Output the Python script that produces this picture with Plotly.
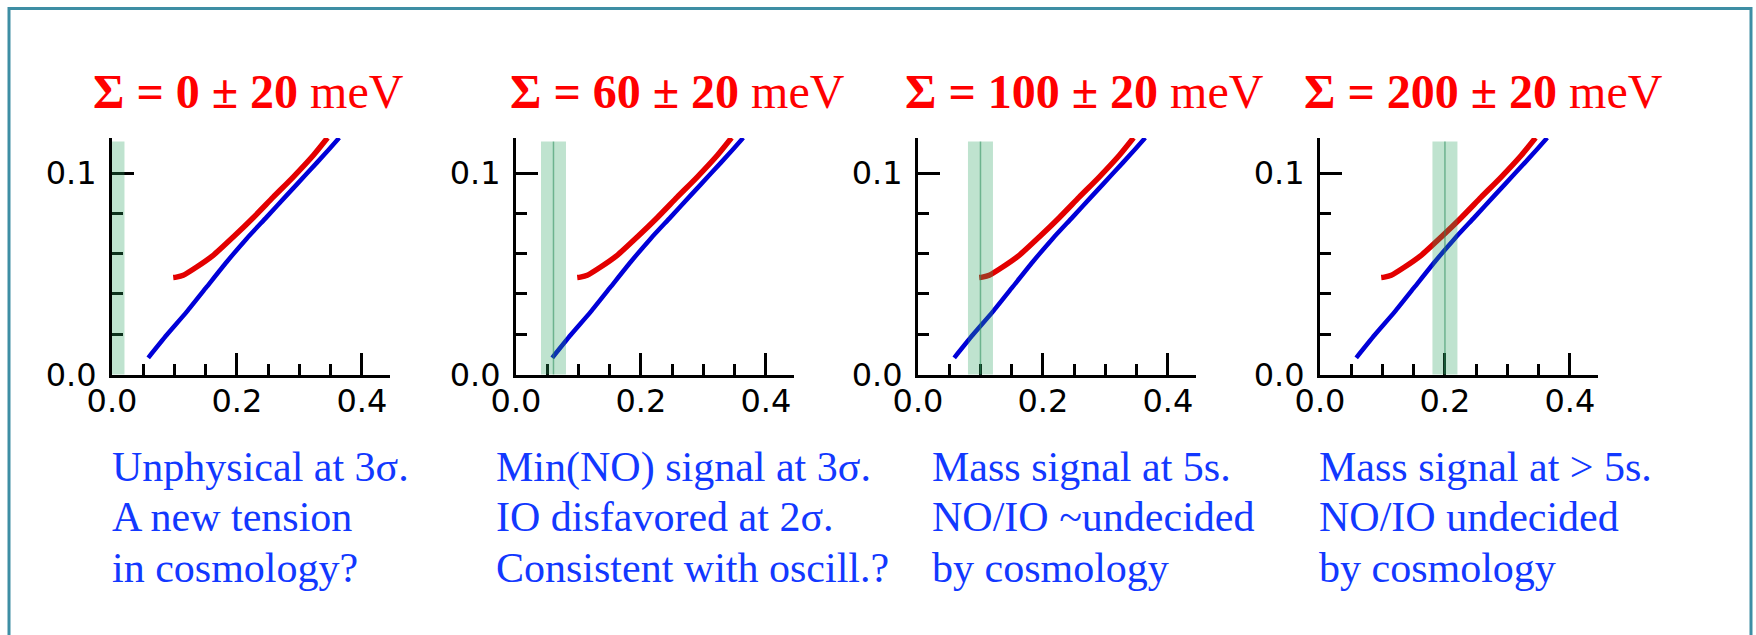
import plotly.graph_objects as go

# ---------------- data ----------------
# Sum of neutrino masses Sigma (eV) vs effective mass m_beta (eV)
no_sum   = [0.058, 0.0875, 0.1195, 0.1515, 0.1835, 0.2155, 0.2475, 0.2795, 0.3115, 0.3435, 0.3637]
no_mbeta = [0.0083, 0.0196, 0.0311, 0.0435, 0.0559, 0.0675, 0.0782, 0.0890, 0.0997, 0.1105, 0.1176]
io_sum   = [0.098, 0.103, 0.114, 0.1355, 0.162, 0.194, 0.226, 0.258, 0.290, 0.322, 0.345]
io_mbeta = [0.0482, 0.0484, 0.0493, 0.0534, 0.0592, 0.0683, 0.0779, 0.0881, 0.0981, 0.1088, 0.1176]

sigma_centers = [0.0, 0.06, 0.10, 0.20]   # eV
sigma_error = 0.02                        # eV
sigma_labels = ["0", "60", "100", "200"]  # meV

x_tickvals = [0.0, 0.2, 0.4]
x_ticktext = ["0.0", "0.2", "0.4"]
y_tickvals = [0.0, 0.1]
y_ticktext = ["0.0", "0.1"]

notes = [
    ["Unphysical at 3σ.", "A new tension", "in cosmology?"],
    ["Min(NO) signal at 3σ.", "IO disfavored at 2σ.", "Consistent with oscill.?"],
    ["Mass signal at 5s.", "NO/IO ~undecided", "by cosmology"],
    ["Mass signal at > 5s.", "NO/IO undecided", "by cosmology"],
]

# ---------------- layout geometry (pixels) ----------------
W, H = 1756, 635
axis_left_px = [112, 516, 918, 1320]
plot_w_px = 278
plot_top_px, plot_bot_px = 138, 374.5
title_left_px = [91, 508, 903, 1302]
note_left_px = [110, 494, 930, 1317]
title_center_y = 91
note_center_y = [467, 517, 568]

def px(x):
    return x / W

def py(y):
    return 1 - y / H

RED = "#e30000"
BLUE = "#0000d8"
TEXT_BLUE = "#1238ff"
BAND = "rgba(44,162,95,0.30)"
BAND_LINE = "rgba(40,140,90,0.55)"
FRAME = "#3e8ea4"

fig = go.Figure()
layout = dict(
    width=W, height=H,
    margin=dict(l=0, r=0, t=0, b=0, pad=0, autoexpand=False),
    paper_bgcolor="white", plot_bgcolor="white",
    showlegend=False,
)
shapes = []
annotations = []

for i in range(4):
    sfx = "" if i == 0 else str(i + 1)
    xa, ya = "x" + sfx, "y" + sfx
    fig.add_trace(go.Scatter(x=io_sum, y=io_mbeta, mode="lines", xaxis=xa, yaxis=ya,
                             line=dict(color=RED, width=5.5, shape="spline", smoothing=0.6)))
    fig.add_trace(go.Scatter(x=no_sum, y=no_mbeta, mode="lines", xaxis=xa, yaxis=ya,
                             line=dict(color=BLUE, width=4.5, shape="spline", smoothing=0.6)))
    axis_common = dict(
        showline=True, linecolor="black", linewidth=3,
        ticks="inside", tickcolor="black", tickwidth=2.5, ticklen=22,
        showgrid=False, zeroline=False, automargin=False,
        tickfont=dict(family="DejaVu Sans", size=32, color="black"),
        minor=dict(ticks="inside", ticklen=11, tickwidth=2.5, tickcolor="black", showgrid=False),
    )
    layout["xaxis" + sfx] = dict(
        axis_common, anchor=ya, range=[0, 0.445],
        domain=[px(axis_left_px[i]), px(axis_left_px[i] + plot_w_px)],
        tickmode="array", tickvals=x_tickvals, ticktext=x_ticktext,
        minor=dict(axis_common["minor"], dtick=0.05, tick0=0),
        ticklabelstandoff=-4,
    )
    layout["yaxis" + sfx] = dict(
        axis_common, anchor=xa, range=[0, 0.1175],
        domain=[py(plot_bot_px), py(plot_top_px)],
        tickmode="array", tickvals=y_tickvals, ticktext=y_ticktext,
        minor=dict(axis_common["minor"], dtick=0.02, tick0=0),
        ticklabelstandoff=6,
    )
    c = sigma_centers[i]
    shapes.append(dict(type="rect", xref=xa, yref=ya + " domain",
                       x0=max(c - sigma_error, 0), x1=c + sigma_error, y0=0, y1=0.985,
                       fillcolor=BAND, line=dict(width=0), layer="above"))
    if c > 0:
        shapes.append(dict(type="line", xref=xa, yref=ya + " domain",
                           x0=c, x1=c, y0=0, y1=0.985,
                           line=dict(color=BAND_LINE, width=1.5), layer="above"))
    annotations.append(dict(
        xref="paper", yref="paper", x=px(title_left_px[i]), y=py(title_center_y),
        xanchor="left", yanchor="middle", showarrow=False,
        text="<b>Σ = " + sigma_labels[i] + " ± 20</b> meV",
        font=dict(family="Liberation Serif", size=48, color="#ff0000"),
    ))
    for j, line in enumerate(notes[i]):
        annotations.append(dict(
            xref="paper", yref="paper", x=px(note_left_px[i]), y=py(note_center_y[j]),
            xanchor="left", yanchor="middle", showarrow=False, text=line,
            font=dict(family="Liberation Serif", size=42, color=TEXT_BLUE),
        ))

# outer frame (bottom edge lies below the visible page)
shapes.append(dict(type="rect", xref="paper", yref="paper",
                   x0=px(9), x1=px(1751), y0=py(650), y1=py(8.5),
                   line=dict(color=FRAME, width=3), fillcolor="rgba(0,0,0,0)", layer="below"))

layout["shapes"] = shapes
layout["annotations"] = annotations
fig.update_layout(**layout)
fig.write_html("out.html", config={"displayModeBar": False},
               post_script="document.body.style.margin='0';document.body.style.padding='0';")
